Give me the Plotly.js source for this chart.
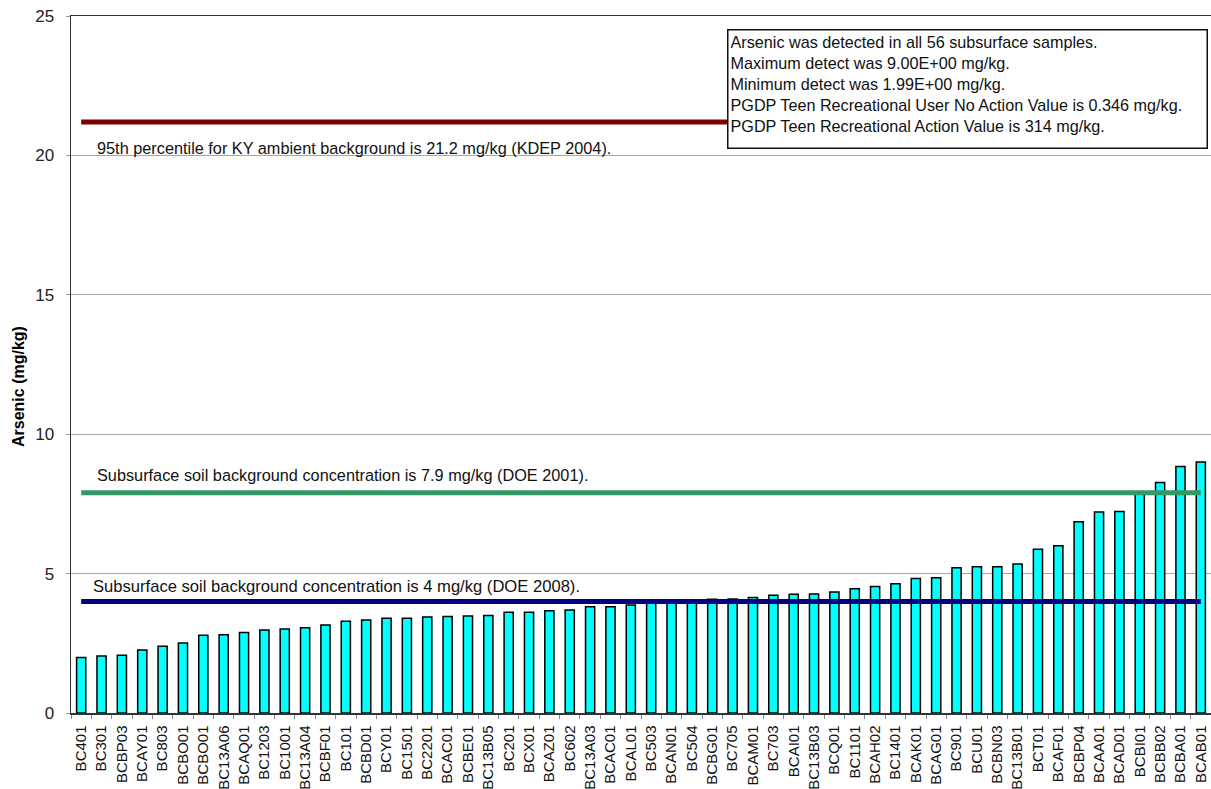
<!DOCTYPE html>
<html>
<head>
<meta charset="utf-8">
<script src="https://cdn.plot.ly/plotly-3.0.1.min.js"></script>
<style>html,body{margin:0;padding:0;overflow:hidden;background:#fff;}#chart{width:1211px;height:789px;}</style>
</head>
<body>
<div id="chart"></div>
<script>
// ---- data ----
const sampleLabels = ["BC401","BC301","BCBP03","BCAY01","BC803","BCBO01","BCBO01","BC13A06","BCAQ01","BC1203",
  "BC1001","BC13A04","BCBF01","BC101","BCBD01","BCY01","BC1501","BC2201","BCAC01","BCBE01",
  "BC13B05","BC201","BCX01","BCAZ01","BC602","BC13A03","BCAC01","BCAL01","BC503","BCAN01",
  "BC504","BCBG01","BC705","BCAM01","BC703","BCAI01","BC13B03","BCQ01","BC1101","BCAH02",
  "BC1401","BCAK01","BCAG01","BC901","BCU01","BCBN03","BC13B01","BCT01","BCAF01","BCBP04",
  "BCAA01","BCAD01","BCBI01","BCBB02","BCBA01","BCAB01"];
const arsenicValues = [1.99,2.04,2.07,2.26,2.39,2.51,2.79,2.81,2.89,2.98,
  3.01,3.06,3.16,3.29,3.34,3.40,3.40,3.44,3.46,3.48,
  3.50,3.61,3.61,3.67,3.69,3.81,3.81,3.87,3.98,4.00,
  4.02,4.08,4.09,4.14,4.22,4.26,4.27,4.34,4.46,4.54,
  4.64,4.82,4.85,5.21,5.25,5.25,5.34,5.87,6.00,6.86,
  7.21,7.23,7.88,8.27,8.84,9.00];
const refValues = [21.2, 7.9, 4];
const refLabels = [
  "95th percentile for KY ambient background is 21.2 mg/kg (KDEP 2004).",
  "Subsurface soil background concentration is 7.9 mg/kg (DOE 2001).",
  "Subsurface soil background concentration is 4 mg/kg (DOE 2008)."
];
const infoLines = [
  "Arsenic was detected in all 56 subsurface samples.",
  "Maximum detect was 9.00E+00 mg/kg.",
  "Minimum detect was 1.99E+00 mg/kg.",
  "PGDP Teen Recreational User No Action Value is 0.346 mg/kg.",
  "PGDP Teen Recreational Action Value is 314 mg/kg."
];
const yTicks = [0, 5, 10, 15, 20, 25];
const yTitle = "Arsenic (mg/kg)";

// ---- styles / layout helpers ----
const FONT = "Liberation Sans, Arial, sans-serif";
const refColors = ["#800000", "#339966", "#000080"];
const xPos = sampleLabels.map((_, i) => i + 1);
const ML = 71, MT = 16, MB = 76, W = 1211, H = 789;
const plotW = W - ML, plotH = H - MT - MB;
const px2paperX = p => (p - ML) / plotW;
const px2paperY = p => (H - MB - p) / plotH;

const traces = [{
  type: "bar", x: xPos, y: arsenicValues, width: 0.45,
  marker: {color: "#00FFFF", line: {color: "#000", width: 1.5}},
  hoverinfo: "y", showlegend: false
}];
refValues.forEach((v, k) => {
  traces.push({
    type: "scatter", mode: "lines",
    x: [xPos[0], xPos[xPos.length - 1]], y: [v, v],
    line: {color: refColors[k], width: 5},
    showlegend: false, hoverinfo: "skip"
  });
});

const txtFont = {family: FONT, size: 16.3, color: "#111"};
const annotations = [
  {xref: "paper", yref: "paper", x: px2paperX(95), y: px2paperY(148), xanchor: "left", yanchor: "middle",
   text: refLabels[0], showarrow: false, font: txtFont},
  {xref: "paper", yref: "paper", x: px2paperX(95), y: px2paperY(475), xanchor: "left", yanchor: "middle",
   text: refLabels[1], showarrow: false, font: txtFont},
  {xref: "paper", yref: "paper", x: px2paperX(91), y: px2paperY(586), xanchor: "left", yanchor: "middle",
   text: refLabels[2], showarrow: false, font: {family: FONT, size: 16.6, color: "#111"}},
  {xref: "paper", yref: "paper", x: px2paperX(727), y: px2paperY(29), xanchor: "left", yanchor: "top",
   text: infoLines.join("<br>"), showarrow: false, align: "left", valign: "top",
   width: 474, height: 113, bgcolor: "#fff", bordercolor: "#111", borderwidth: 1.5, borderpad: 2,
   font: {family: FONT, size: 16.2, color: "#111"}},
  {xref: "paper", yref: "paper", x: px2paperX(19), y: px2paperY(387), xanchor: "center", yanchor: "middle",
   text: "<b>" + yTitle + "</b>", textangle: -90, showarrow: false,
   font: {family: FONT, size: 16, color: "#000"}}
];

const shapes = [
  {type: "rect", layer: "between", xref: "paper", yref: "paper",
   x0: px2paperX(88), x1: px2paperX(715), y0: px2paperY(160), y1: px2paperY(137),
   fillcolor: "#fff", line: {width: 0}}
];

const layout = {
  width: W, height: H,
  margin: {l: ML, r: 0, t: MT, b: MB},
  paper_bgcolor: "#fff", plot_bgcolor: "#fff",
  font: {family: FONT, color: "#222"},
  showlegend: false,
  xaxis: {
    range: [0.5, 56.5], tickmode: "array", tickvals: xPos, ticktext: sampleLabels,
    tickangle: -90, tickfont: {family: FONT, size: 15, color: "#111"},
    ticks: "", showgrid: false, zeroline: false,
    showline: true, linecolor: "#333", linewidth: 1.5, mirror: true,
    ticklabelstandoff: 5,
    minor: {tick0: 0.5, dtick: 1, ticks: "outside", ticklen: 4, tickcolor: "#888", showgrid: false}
  },
  yaxis: {
    range: [0, 25], tickmode: "array", tickvals: yTicks,
    tickfont: {family: FONT, size: 17, color: "#222"},
    ticks: "outside", ticklen: 4, tickcolor: "#999",
    showgrid: true, gridcolor: "#a6a6a6", gridwidth: 1,
    zeroline: false, showline: true, linecolor: "#333", linewidth: 1.5,
    ticklabelstandoff: 8
  },
  shapes: shapes,
  annotations: annotations
};

Plotly.newPlot("chart", traces, layout, {displayModeBar: false, staticPlot: true});
</script>
</body>
</html>
